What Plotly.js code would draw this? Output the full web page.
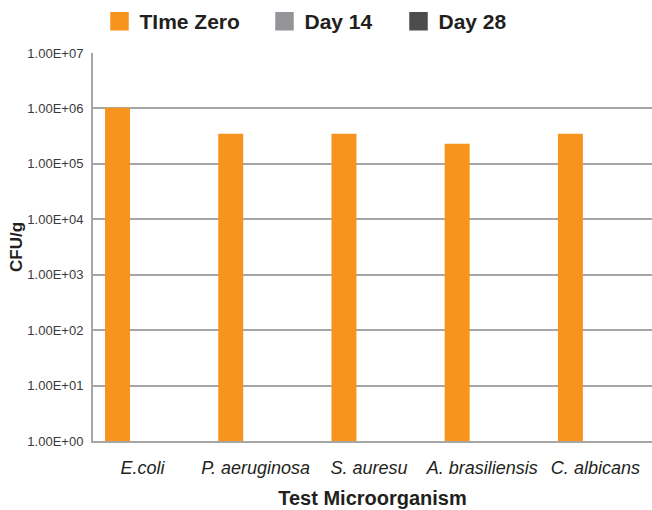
<!DOCTYPE html>
<html>
<head>
<meta charset="utf-8">
<script src="https://cdn.plot.ly/plotly-3.0.1.min.js"></script>
<style>html,body{margin:0;padding:0;background:#fff;}#chart{width:652px;height:510px;}</style>
</head>
<body>
<div id="chart"></div>
<script>
const categories = ['E.coli', 'P. aeruginosa', 'S. auresu', 'A. brasiliensis', 'C. albicans'];
const seriesNames = ['TIme Zero', 'Day 14', 'Day 28'];
const timeZero = [1.03e6, 3.5e5, 3.5e5, 2.3e5, 3.5e5];
const day14 = [null, null, null, null, null];
const day28 = [null, null, null, null, null];
const tickValues = [1, 10, 100, 1000, 10000, 100000, 1000000, 10000000];
const tickLabels = ['1.00E+00', '1.00E+01', '1.00E+02', '1.00E+03', '1.00E+04', '1.00E+05', '1.00E+06', '1.00E+07'];
const colors = ['#F7941D', '#939598', '#4D4D4F'];

const seriesValues = [timeZero, day14, day28];
const legendIds = ['legend', 'legend2', 'legend3'];
const legendX = [99.5, 264.5, 398.5];
const traces = [];
seriesValues.forEach((vals, i) => {
  traces.push({
    type: 'bar', x: categories, y: vals, name: seriesNames[i],
    marker: {color: colors[i]}, showlegend: false, hoverinfo: 'x+y+name'
  });
});
seriesNames.forEach((n, i) => {
  traces.push({
    type: 'scatter', mode: 'markers', x: [null], y: [null], name: n,
    legend: legendIds[i],
    marker: {symbol: 'square', size: 16, color: colors[i], line: {color: colors[i], width: 2.5}},
    hoverinfo: 'skip'
  });
});

const legendFont = {size: 21, color: '#231f20', family: 'Liberation Sans, Arial, sans-serif', weight: 'bold'};

const layout = {
  width: 652, height: 510,
  margin: {l: 93, r: 0, t: 53, b: 69},
  paper_bgcolor: '#fff', plot_bgcolor: '#fff',
  font: {family: 'Liberation Sans, Arial, sans-serif', color: '#231f20'},
  barmode: 'group', bargap: 0.338, bargroupgap: 0,
  showlegend: true,
  xaxis: {
    type: 'category', range: [-0.437, 4.5],
    showgrid: false, showline: true, linecolor: '#a6a6a6', linewidth: 2,
    ticks: '', ticklabelstandoff: 9,
    tickfont: {size: 18, style: 'italic', color: '#231f20'},
    title: {text: 'Test Microorganism', font: {size: 20, weight: 'bold', color: '#231f20'}, standoff: 14},
    fixedrange: true
  },
  yaxis: {
    type: 'log', range: [0, 7],
    tickvals: tickValues, ticktext: tickLabels,
    showgrid: true, gridcolor: '#a6a6a6', gridwidth: 2,
    showline: true, linecolor: '#a6a6a6', linewidth: 2,
    ticks: '', ticklabelstandoff: 5,
    tickfont: {size: 13, family: 'Liberation Sans Narrow, Liberation Sans, Arial', color: '#3a3a3a'},
    title: {text: 'CFU/g', font: {size: 17, weight: 'bold', color: '#231f20'}, standoff: 0},
    zeroline: false, fixedrange: true
  }
};
legendIds.forEach((id, i) => {
  layout[id] = {
    orientation: 'h', xref: 'container', yref: 'container',
    x: legendX[i] / 652, xanchor: 'left', y: 1 - 1 / 510, yanchor: 'top',
    font: legendFont, itemsizing: 'trace', bgcolor: 'rgba(0,0,0,0)'
  };
});

Plotly.newPlot('chart', traces, layout, {displayModeBar: false, staticPlot: true});
</script>
</body>
</html>
